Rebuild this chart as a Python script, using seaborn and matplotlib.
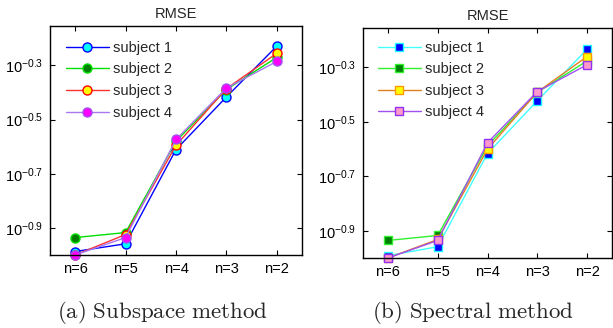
import numpy as np
import pandas as pd
import matplotlib
matplotlib.use("Agg")
import matplotlib.pyplot as plt
import seaborn as sns
from matplotlib.ticker import FixedLocator, FuncFormatter, NullLocator

# ---- data ----
categories = ["n=6", "n=5", "n=4", "n=3", "n=2"]
subjects = ["subject 1", "subject 2", "subject 3", "subject 4"]

subspace_s1 = [0.103, 0.110, 0.245, 0.383, 0.590]
subspace_s2 = [0.116, 0.121, 0.263, 0.408, 0.536]
subspace_s3 = [0.100, 0.119, 0.254, 0.411, 0.555]
subspace_s4 = [0.100, 0.116, 0.267, 0.413, 0.518]

spectral_s1 = [0.102, 0.110, 0.242, 0.378, 0.585]
spectral_s2 = [0.116, 0.121, 0.258, 0.406, 0.530]
spectral_s3 = [0.100, 0.117, 0.251, 0.407, 0.550]
spectral_s4 = [0.100, 0.116, 0.265, 0.409, 0.513]

ytick_exponents = [-0.9, -0.7, -0.5, -0.3]
panel_titles = ["RMSE", "RMSE"]
captions = [r"$\mathrm{(a)\ Subspace\ method}$", r"$\mathrm{(b)\ Spectral\ method}$"]

sns.set_style("ticks")
plt.rcParams["font.family"] = ["Liberation Sans", "DejaVu Sans"]
plt.rcParams["mathtext.fontset"] = "custom"
plt.rcParams["mathtext.rm"] = "Liberation Sans"
plt.rcParams["mathtext.it"] = "Liberation Sans:italic"
plt.rcParams["mathtext.bf"] = "Liberation Sans:bold"


def long_df(series):
    rows = []
    for subj, vals in zip(subjects, series):
        for c, v in zip(categories, vals):
            rows.append({"n": c, "rmse": v, "subject": subj})
    return pd.DataFrame(rows)


df_a = long_df([subspace_s1, subspace_s2, subspace_s3, subspace_s4])
df_b = long_df([spectral_s1, spectral_s2, spectral_s3, spectral_s4])

style_a = [
    dict(color="#0000ff", marker="o", mfc="#00ffff", mec="#0000ff"),
    dict(color="#00e000", marker="o", mfc="#007f00", mec="#00e000"),
    dict(color="#ff3030", marker="o", mfc="#ffff00", mec="#ff0000"),
    dict(color="#a878f0", marker="o", mfc="#ff00ff", mec="#a050f0"),
]
style_b = [
    dict(color="#40ffff", marker="s", mfc="#0000ff", mec="#20ffff"),
    dict(color="#30f030", marker="s", mfc="#007f00", mec="#30f030"),
    dict(color="#e08020", marker="s", mfc="#ffff00", mec="#ff9900"),
    dict(color="#a050f0", marker="s", mfc="#ff99cc", mec="#9030f0"),
]

fig = plt.figure(figsize=(6.13, 3.28), dpi=100)
W, H = 613, 328
ax_a = fig.add_axes([50 / W, 1 - 255 / H, 252 / W, 229 / H])
ax_b = fig.add_axes([363 / W, 1 - 258 / H, 249 / W, 230 / H])

FS = 10.5
for ax, df, styles, title, leg_anchor in [
    (ax_a, df_a, style_a, panel_titles[0], (0.063, 0.935)),
    (ax_b, df_b, style_b, panel_titles[1], (0.06, 0.945)),
]:
    for subj, st in zip(subjects, styles):
        d = df[df["subject"] == subj]
        sns.lineplot(data=d, x="n", y="rmse", ax=ax, sort=False,
                     color=st["color"], marker=st["marker"],
                     markerfacecolor=st["mfc"], markeredgecolor=st["mec"],
                     markersize=6.5 if st["marker"] == "o" else 6,
                     markeredgewidth=1.0, linewidth=1.0,
                     label=subj, clip_on=False)
    ax.set_yscale("log")
    ax.set_ylim(0.1, 0.7)
    ax.set_xlim(-0.5, 4.5)
    ax.yaxis.set_major_locator(FixedLocator([10 ** e for e in ytick_exponents]))
    ax.yaxis.set_minor_locator(NullLocator())
    ax.yaxis.set_major_formatter(
        FuncFormatter(lambda v, p: r"$10^{%.1f}$" % np.log10(v)))
    ax.set_xlabel("")
    ax.set_ylabel("")
    ax.set_title(title, fontsize=FS, pad=6)
    ax.tick_params(direction="in", top=True, right=True, length=3.5,
                   width=0.8, labelsize=FS, colors="black", pad=5)
    for sp in ax.spines.values():
        sp.set_visible(True)
        sp.set_color("black")
        sp.set_linewidth(1.0)
    ax.legend(loc="upper left", bbox_to_anchor=leg_anchor, frameon=False,
              fontsize=FS, handlelength=2.95, handletextpad=0.3,
              labelspacing=0.52, borderaxespad=0, borderpad=0)

fig.text(162 / W, 1 - 313 / H, captions[0],
         ha="center", va="center", fontsize=16.5, math_fontfamily="cm")
fig.text(473 / W, 1 - 313 / H, captions[1],
         ha="center", va="center", fontsize=16.5, math_fontfamily="cm")

fig.savefig("out.png", dpi=100)
